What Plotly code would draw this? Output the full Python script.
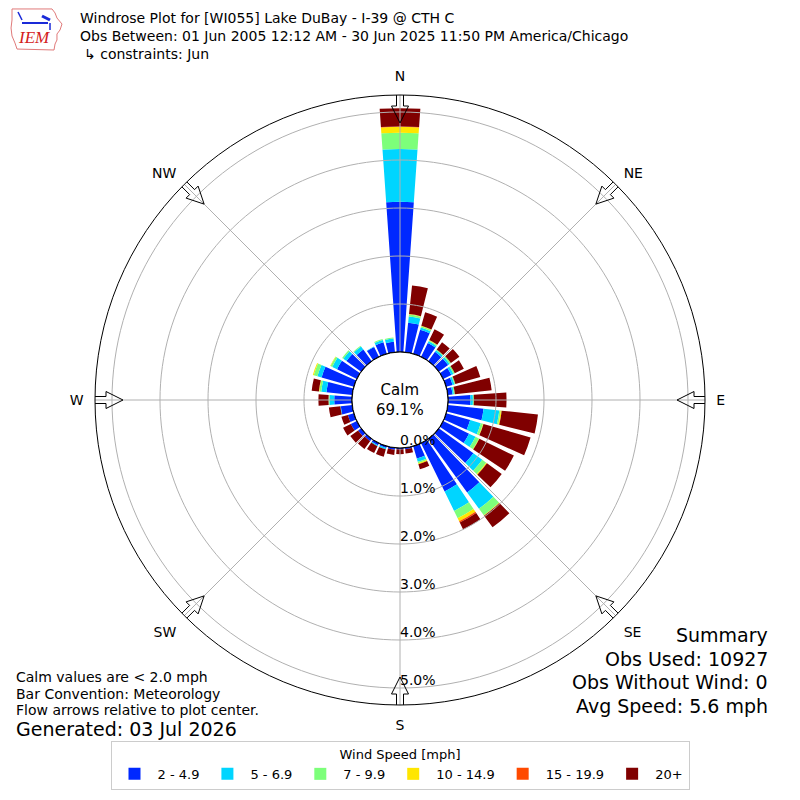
import math
import plotly.graph_objects as go

# ---------------- data ----------------
directions = list(range(0, 360, 10))  # compass degrees, bin centres
speed_bins = ["2 - 4.9", "5 - 6.9", "7 - 9.9", "10 - 14.9", "15 - 19.9", "20+"]
bin_colors = ["#0028ff", "#00d5ff", "#7dff7a", "#ffe600", "#ff4a00", "#800000"]

# frequency (%) per direction for each speed bin
freq_2_5 = [3.13, 0.62, 0.52, 0.32, 0.24, 0.24, 0.19, 0.14, 0.10, 0.47, 0.75, 0.52,
            0.60, 0.89, 1.38, 1.12, 0.27, 0.03, 0.03, 0.04, 0.04, 0.05, 0.06, 0.08,
            0.14, 0.13, 0.24, 0.37, 0.54, 0.70, 0.46, 0.38, 0.30, 0.23, 0.25, 0.22]
freq_5_7 = [1.10, 0.13, 0.05, 0.04, 0.04, 0.04, 0.05, 0.04, 0.03, 0.05, 0.33, 0.23,
            0.15, 0.23, 0.42, 0.45, 0.07, 0.00, 0.00, 0.00, 0.03, 0.02, 0.00, 0.00,
            0.00, 0.00, 0.01, 0.10, 0.11, 0.09, 0.11, 0.08, 0.08, 0.01, 0.05, 0.07]
freq_7_10 = [0.34, 0.04, 0.03, 0.02, 0.02, 0.03, 0.03, 0.02, 0.02, 0.02, 0.03, 0.05,
             0.08, 0.10, 0.17, 0.17, 0.03, 0.00, 0.00, 0.00, 0.00, 0.00, 0.00, 0.00,
             0.00, 0.00, 0.00, 0.02, 0.04, 0.08, 0.04, 0.03, 0.02, 0.00, 0.02, 0.02]
freq_10_15 = [0.12, 0.01, 0.01, 0.01, 0.00, 0.00, 0.00, 0.00, 0.00, 0.00, 0.02, 0.01,
              0.01, 0.02, 0.01, 0.07, 0.02, 0.00, 0.00, 0.00, 0.00, 0.00, 0.00, 0.00,
              0.00, 0.00, 0.00, 0.00, 0.01, 0.02, 0.01, 0.00, 0.00, 0.00, 0.00, 0.00]
freq_15_20 = [0.01, 0.00, 0.00, 0.00, 0.00, 0.00, 0.00, 0.00, 0.00, 0.00, 0.00, 0.00,
              0.00, 0.00, 0.00, 0.03, 0.00, 0.00, 0.00, 0.00, 0.00, 0.00, 0.00, 0.00,
              0.00, 0.00, 0.00, 0.00, 0.00, 0.00, 0.00, 0.00, 0.00, 0.00, 0.00, 0.00]
freq_20p = [0.38, 0.60, 0.29, 0.25, 0.19, 0.22, 0.21, 0.54, 0.77, 0.68, 0.76, 1.02,
            0.80, 0.38, 0.30, 0.16, 0.11, 0.09, 0.10, 0.11, 0.16, 0.16, 0.20, 0.20,
            0.18, 0.14, 0.24, 0.21, 0.15, 0.00, 0.00, 0.00, 0.00, 0.00, 0.00, 0.00]
series = [freq_2_5, freq_5_7, freq_7_10, freq_10_15, freq_15_20, freq_20p]

compass_vals = [0, 45, 90, 135, 180, 225, 270, 315]
compass_text = ["N", "NE", "E", "SE", "S", "SW", "W", "NW"]
radial_ticks = [0, 1, 2, 3, 4, 5]
radial_label_dir = 180  # radial labels run down the S line
calm_pct = 69.1

title_lines = [
    "Windrose Plot for [WI055] Lake DuBay - I-39 @ CTH C",
    "Obs Between: 01 Jun 2005 12:12 AM - 30 Jun 2025 11:50 PM America/Chicago",
    "\u21b3 constraints: Jun",
]
notes = ["Calm values are < 2.0 mph", "Bar Convention: Meteorology",
         "Flow arrows relative to plot center."]
generated = "Generated: 03 Jul 2026"
summary = ["Summary", "Obs Used: 10927", "Obs Without Wind: 0", "Avg Speed: 5.6 mph"]

# ---------------- style / geometry ----------------
W = H = 800
R_OUT = 305.0      # px, outer circle radius
R_HOLE = 48.0      # px, calm circle radius
RMAX = 5.354       # radial range max (%)
PX_PER = (R_OUT - R_HOLE) / RMAX
FONT = "DejaVu Sans"
GRID = "#b0b0b0"

fig = go.Figure()

for name, vals, col in zip(speed_bins, series, bin_colors):
    fig.add_trace(go.Barpolar(r=vals, theta=directions, width=8, name=name,
                              marker=dict(color=col, line=dict(width=0))))

# grid drawn above bars (as in reference)
circle_theta = list(range(0, 361, 2))
for rv in radial_ticks[1:]:
    fig.add_trace(go.Scatterpolar(r=[rv] * len(circle_theta), theta=circle_theta, mode="lines",
                                  line=dict(color=GRID, width=1), showlegend=False,
                                  hoverinfo="skip"))
for a in compass_vals:
    fig.add_trace(go.Scatterpolar(r=[0, RMAX], theta=[a, a], mode="lines",
                                  line=dict(color=GRID, width=1), showlegend=False,
                                  hoverinfo="skip"))
# calm circle edge
fig.add_trace(go.Scatterpolar(r=[0] * len(circle_theta), theta=circle_theta, mode="lines",
                              line=dict(color="black", width=1.2), showlegend=False,
                              hoverinfo="skip", cliponaxis=False))

# radial tick labels (placed above-right of each ring on the S line)
fig.add_trace(go.Scatterpolar(r=radial_ticks, theta=[radial_label_dir] * len(radial_ticks),
                              mode="text", text=["%.1f%%" % v for v in radial_ticks],
                              textposition="top right", textfont=dict(size=14, color="black"),
                              showlegend=False, hoverinfo="skip", cliponaxis=False))


# flow arrows at the compass points (outline only)
def px_to_r(rp):
    return (rp - R_HOLE) / PX_PER


TAIL, HBASE, TIP, SHW, HHW = 307.0, 294.0, 277.0, 3.5, 8.5
for a in compass_vals:
    pts = [(TAIL, -SHW), (HBASE, -SHW), (HBASE, -HHW), (TIP, 0.0),
           (HBASE, HHW), (HBASE, SHW), (TAIL, SHW), (TAIL, -SHW)]
    rr, tt = [], []
    for rp, d in pts:
        rr.append(px_to_r(math.hypot(rp, d)))
        tt.append(a + math.degrees(math.atan2(d, rp)))
    fig.add_trace(go.Scatterpolar(r=rr, theta=tt, mode="lines", line=dict(color="black", width=1),
                                  showlegend=False, hoverinfo="skip", cliponaxis=False))

dom = [(400 - R_OUT) / W, (400 + R_OUT) / W]
fig.update_layout(
    width=W, height=H, margin=dict(l=0, r=0, t=0, b=0),
    paper_bgcolor="white", plot_bgcolor="white",
    font=dict(family=FONT, size=14, color="black"),
    polar=dict(
        domain=dict(x=dom, y=dom),
        hole=R_HOLE / R_OUT,
        bgcolor="white",
        barmode="stack",
        radialaxis=dict(range=[0, RMAX], tickvals=radial_ticks, showticklabels=False,
                        showgrid=False, showline=False, ticks="", angle=-90),
        angularaxis=dict(rotation=90, direction="clockwise", tickvals=compass_vals,
                         ticktext=compass_text, showgrid=False, showline=True,
                         linecolor="black", linewidth=1, ticks="outside", ticklen=8,
                         tickcolor="rgba(0,0,0,0)", tickfont=dict(size=14, color="black")),
    ),
    legend=dict(orientation="h", x=0.5, xanchor="center", y=1 - 741 / H, yanchor="top",
                bgcolor="white", bordercolor="#cccccc", borderwidth=1, itemwidth=36,
                font=dict(size=13), title=dict(text="Wind Speed [mph]", side="top center",
                                               font=dict(size=13))),
)

ann = []
for i, t in enumerate(title_lines):
    ann.append(dict(text=t, x=(78 if i < 2 else 82) / W, y=1 - (18 + 18 * i) / H,
                    xref="paper", yref="paper", xanchor="left", yanchor="middle",
                    showarrow=False, font=dict(size=14)))
for i, t in enumerate(notes):
    ann.append(dict(text=t, x=14 / W, y=1 - (677 + 16.5 * i) / H, xref="paper", yref="paper",
                    xanchor="left", yanchor="middle", showarrow=False, font=dict(size=14)))
ann.append(dict(text=generated, x=14 / W, y=1 - 729 / H, xref="paper", yref="paper",
                xanchor="left", yanchor="middle", showarrow=False, font=dict(size=19)))
for i, t in enumerate(summary):
    ann.append(dict(text=t, x=770 / W, y=1 - (635 + 23.7 * i) / H, xref="paper", yref="paper",
                    xanchor="right", yanchor="middle", showarrow=False, font=dict(size=19)))
ann.append(dict(text="Calm<br>%.1f%%" % calm_pct, x=0.5, y=0.5, xref="paper", yref="paper",
                xanchor="center", yanchor="middle", showarrow=False, font=dict(size=15)))
# IEM logo text
ann.append(dict(text="<i>IEM</i>", x=34 / W, y=1 - 38 / H, xref="paper", yref="paper",
                xanchor="center", yanchor="middle", showarrow=False,
                font=dict(size=17, color="#d42020", family="Liberation Serif")))
fig.update_layout(annotations=ann)


def pp(x, y):
    return "%.4f,%.4f" % (x / W, 1 - y / H)


iowa = [(12, 9), (52, 9), (55, 13), (57, 18), (62, 24), (60, 30), (57, 34), (57, 40),
        (55, 44), (54, 50), (17, 49), (15, 43), (12, 36), (11, 28), (12, 20)]
path = "M" + " L".join(pp(x, y) for x, y in iowa) + " Z"
shapes = [
    dict(type="path", path=path, xref="paper", yref="paper",
         line=dict(color="#e07a7a", width=1)),
    dict(type="line", x0=22 / W, x1=48 / W, y0=1 - 23 / H, y1=1 - 23 / H, xref="paper",
         yref="paper", line=dict(color="#1a2ad8", width=2)),
    dict(type="line", x0=42 / W, x1=50 / W, y0=1 - 16 / H, y1=1 - 20 / H, xref="paper",
         yref="paper", line=dict(color="#1a2ad8", width=3)),
    dict(type="line", x0=18 / W, x1=22 / W, y0=1 - 12 / H, y1=1 - 20 / H, xref="paper",
         yref="paper", line=dict(color="#1a2ad8", width=1.5)),
    dict(type="line", x0=50 / W, x1=50 / W, y0=1 - 23 / H, y1=1 - 30 / H, xref="paper",
         yref="paper", line=dict(color="#1a2ad8", width=1.5)),
]
fig.update_layout(shapes=shapes)

fig.write_html("out.html", config={"displayModeBar": False},
               post_script="document.body.style.margin='0px';")
